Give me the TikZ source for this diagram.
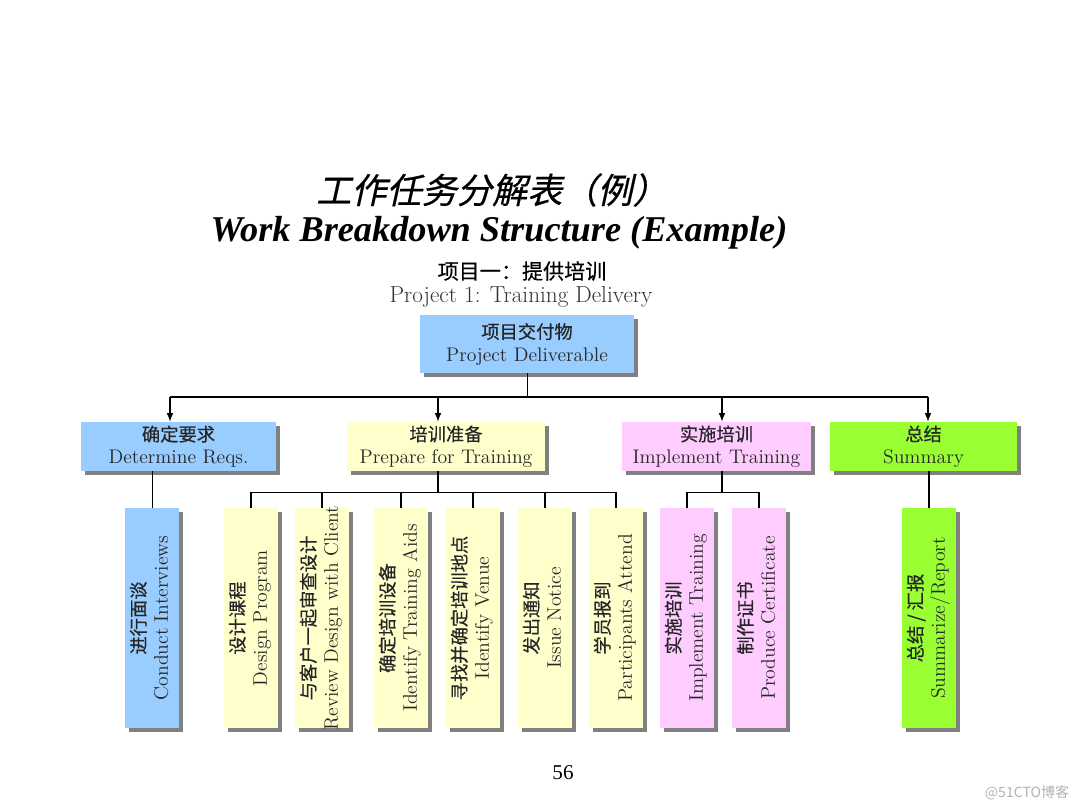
\documentclass[tikz,border=0pt]{standalone}
\usepackage{fontspec}
\newfontfamily\cjk[FakeBold=0.4]{Noto Sans CJK SC}
\newfontfamily\cjkinclinada[FakeSlant=0.22,FakeBold=0.5]{Noto Sans CJK SC}
\newfontfamily\tnr{Liberation Serif}
\usetikzlibrary{shadows}
\usepackage{xcolor}

\definecolor{azulcaja}{HTML}{99CCFF}
\definecolor{amarillocaja}{HTML}{FFFFCC}
\definecolor{rosacaja}{HTML}{FFCCFF}
\definecolor{verdecaja}{HTML}{99FF33}

% chino de las cajas y texto girado de las cajas verticales
\newcommand\zh[1]{{\cjk\fontsize{13}{16}\selectfont #1}}
\newcommand\vtexto[2]{\rotatebox{90}{\begin{tabular}{@{}c@{}}\makebox[0pt]{\zh{#1}}\\\makebox[0pt]{#2}\end{tabular}}}

\begin{document}
\begin{tikzpicture}[x=0.025cm,y=-0.025cm,
        caja/.style={fill=#1, inner sep=0pt, align=center, text=black!85,
            font=\fontsize{14}{16}\selectfont,
            drop shadow={shadow xshift=0.11cm, shadow yshift=-0.11cm, fill=black!50, opacity=1}},
        cajah/.style={caja=#1, minimum height=1.225cm},
        cajav/.style={caja=#1, minimum width=1.35cm, minimum height=5.5cm},
        flecha/.style={-latex, line width=1.1pt},
        rama/.style={line width=1.1pt},
        fina/.style={line width=0.6pt}]
    \useasboundingbox (0,0) rectangle (1080,810);

    % Titulos
    \node (titulo) at (492,190) {\cjkinclinada\fontsize{25}{28}\selectfont 工作任务分解表（例）};
    \node (tituloen) at (499,233) {\tnr\bfseries\itshape\fontsize{25.8}{30}\selectfont Work Breakdown Structure (Example)};
    \node (proyecto) at (522,271) {\cjk\fontsize{15}{17}\selectfont 项目一：提供培训};
    \node[text=black!80] (proyectoen) at (521,297) {\fontsize{16.5}{18}\selectfont Project 1: Training Delivery};

    % Nivel 1
    \node[cajah=azulcaja, minimum width=5.35cm, minimum height=1.45cm] (pd) at (527,344)
        {\zh{项目交付物}\\Project Deliverable};

    % Nivel 2
    \node[cajah=azulcaja, minimum width=4.875cm] (dr) at (178.5,446.5) {\zh{确定要求}\\Determine Reqs.};
    \node[cajah=amarillocaja, minimum width=4.95cm] (pf) at (446,446.5) {\zh{培训准备}\\Prepare for Training};
    \node[cajah=rosacaja, minimum width=4.725cm] (it) at (716.5,446.5) {\zh{实施培训}\\Implement Training};
    \node[cajah=verdecaja, minimum width=4.675cm] (sm) at (923.5,446.5) {\zh{总结}\\Summary};

    % Nivel 3
    \node[cajav=azulcaja] (ci) at (152,618) {\vtexto{进行面谈}{Conduct Interviews}};
    \node[cajav=amarillocaja] (dp) at (251,618) {\vtexto{设计课程}{Design Program}};
    \node[cajav=amarillocaja] (rd) at (322,618) {\vtexto{与客户一起审查设计}{Review Design with Client}};
    \node[cajav=amarillocaja] (ta) at (401,618) {\vtexto{确定培训设备}{Identify Training Aids}};
    \node[cajav=amarillocaja] (iv) at (473,618) {\vtexto{寻找并确定培训地点}{Identify Venue}};
    \node[cajav=amarillocaja] (isn) at (545,618) {\vtexto{发出通知}{Issue Notice}};
    \node[cajav=amarillocaja] (pa) at (616,618) {\vtexto{学员报到}{Participants Attend}};
    \node[cajav=rosacaja] (itv) at (687,618) {\vtexto{实施培训}{Implement Training}};
    \node[cajav=rosacaja] (pc) at (759,618) {\vtexto{制作证书}{Produce Certificate}};
    \node[cajav=verdecaja] (sr) at (929,618) {\vtexto{总结 / 汇报}{Summarize/Report}};

    % Conectores del nivel 1 al 2
    \coordinate (f1) at (170,397);
    \coordinate (f2) at (438,397);
    \coordinate (f3) at (722,397);
    \coordinate (f4) at (928,397);
    \draw[fina] (pd.south) -- (pd.south |- f1);
    \draw[line width=1.8pt] (f1) -- (f4);
    \foreach \c/\n in {f1/dr,f2/pf,f3/it,f4/sm}
        \draw[flecha] (\c) -- (\c |- \n.north);

    % Conectores del nivel 2 al 3
    \draw[fina] (dr.south -| ci.north) -- (ci.north);
    \coordinate (g2) at (438,492);
    \draw[rama] (pf.south -| g2) -- (g2);
    \draw[fina] (dp.north |- g2) -- (pa.north |- g2);
    \foreach \n in {dp,rd,ta,iv,isn,pa}
        \draw[rama] (\n.north |- g2) -- (\n.north);
    \coordinate (g3) at (722,492);
    \draw[rama] (it.south -| g3) -- (g3);
    \draw[fina] (itv.north |- g3) -- (pc.north |- g3);
    \foreach \n in {itv,pc}
        \draw[rama] (\n.north |- g3) -- (\n.north);
    \draw[rama] (sm.south -| sr.north) -- (sr.north);

    % Pie de pagina
    \node (pagina) at (563,773) {\tnr\fontsize{15}{18}\selectfont 56};
    \node[text=black!30] (marca) at (1027,793) {\fontspec{Noto Sans CJK SC}\fontsize{10}{12}\selectfont @51CTO博客};
\end{tikzpicture}
\end{document}
